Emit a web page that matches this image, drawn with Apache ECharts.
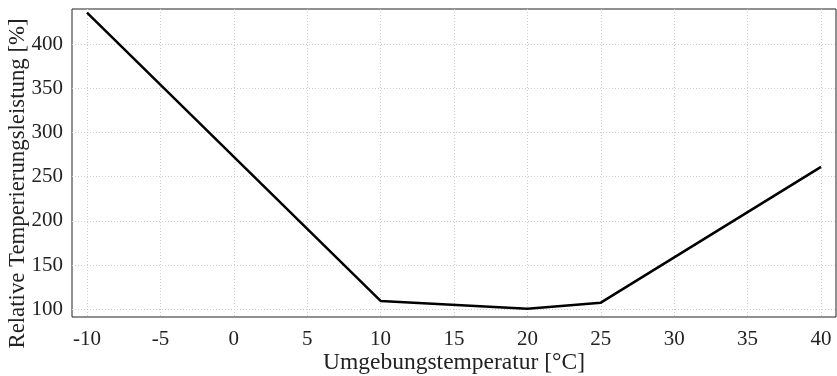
<!DOCTYPE html>
<html>
<head>
<meta charset="utf-8">
<script src="https://cdn.jsdelivr.net/npm/echarts@6/dist/echarts.min.js"></script>
<style>
  html, body { margin: 0; padding: 0; background: #fff; }
  #chart { width: 837px; height: 376px; }
</style>
</head>
<body>
<div id="chart"></div>
<script>
// Umgebungstemperatur [°C] und relative Leistung [%]
const temps = [-10, 10, 20, 25, 40];
const leistung = [435.5, 109.5, 100.5, 107.5, 261];
const xTicks = [-10, -5, 0, 5, 10, 15, 20, 25, 30, 35, 40];
const yTicks = [100, 150, 200, 250, 300, 350, 400];

const font = '"Liberation Serif", "Times New Roman", serif';

const chart = echarts.init(document.getElementById('chart'));

const gridLine = {
    show: true,
    lineStyle: { color: '#cfcfcf', type: [1, 2], width: 1 }
};

const option = {
    animation: false,
    grid: {
        left: 72,
        right: 1,
        top: 9,
        bottom: 59,
        containLabel: false,
        outerBoundsMode: 'none',
        show: true,
        borderColor: '#222',
        borderWidth: 1,
        backgroundColor: 'transparent'
    },
    xAxis: {
        type: 'value',
        min: -11.02,
        max: 41.02,
        name: 'Umgebungstemperatur [°C]',
        nameLocation: 'middle',
        nameGap: 34,
        nameMoveOverlap: false,
        nameTextStyle: { fontFamily: font, fontSize: 23.5, color: '#222' },
        axisLine: { show: false },
        axisTick: { show: false, customValues: xTicks },
        axisLabel: {
            fontFamily: font, fontSize: 21, color: '#222', margin: 11.5,
            customValues: xTicks
        },
        splitLine: gridLine
    },
    yAxis: {
        type: 'value',
        min: 91.3,
        max: 439.6,
        name: 'Relative Temperierungsleistung [%]',
        nameLocation: 'middle',
        nameGap: 42,
        nameMoveOverlap: false,
        nameTextStyle: {
            fontFamily: font, fontSize: 22.8, color: '#222',
            padding: [0, 41, 0, 0]
        },
        axisLine: { show: false },
        axisTick: { show: false, customValues: yTicks },
        axisLabel: {
            fontFamily: font, fontSize: 21, color: '#222', margin: 9,
            customValues: yTicks
        },
        splitLine: gridLine
    },
    series: [{
        type: 'line',
        data: temps.map((t, i) => [t, leistung[i]]),
        showSymbol: false,
        lineStyle: { color: '#000', width: 2.5 }
    }]
};

chart.setOption(option);
</script>
</body>
</html>
